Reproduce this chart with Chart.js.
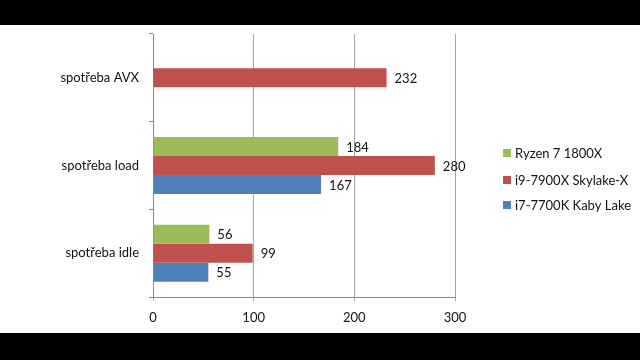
<!DOCTYPE html>
<html>
<head>
<meta charset="utf-8">
<script src="https://cdn.jsdelivr.net/npm/chart.js@4/dist/chart.umd.min.js"></script>
<style>
  html, body { margin: 0; padding: 0; background: #000; }
  #wrap { position: absolute; left: 0; top: 25px; width: 640px; height: 308px; background: #fff; }
</style>
</head>
<body>
<div id="wrap"><canvas id="chart" width="640" height="308"></canvas></div>
<script>
const categories = ['spotřeba AVX', 'spotřeba load', 'spotřeba idle'];
const seriesNames = ['Ryzen 7 1800X', 'i9-7900X Skylake-X', 'i7-7700K Kaby Lake'];
const ryzenValues = [null, 184, 56];
const skylakeValues = [232, 280, 99];
const kabyLakeValues = [null, 167, 55];
const xTickValues = [0, 100, 200, 300];

const colors = ['#9BBB59', '#C0504D', '#4F81BD'];
const FONT = 'Lato';

// labels with the value right of each bar
const valueLabels = {
  id: 'valueLabels',
  afterDatasetsDraw(chart) {
    const ctx = chart.ctx;
    ctx.save();
    ctx.font = '13px ' + FONT;
    ctx.fillStyle = '#111';
    ctx.textBaseline = 'middle';
    ctx.textAlign = 'left';
    chart.data.datasets.forEach((ds, i) => {
      chart.getDatasetMeta(i).data.forEach((bar, j) => {
        const v = ds.data[j];
        if (v == null) return;
        ctx.fillText(String(v), bar.x + 8, bar.y + 1);
      });
    });
    ctx.restore();
  }
};

// legend on the right, like the excel one
const sideLegend = {
  id: 'sideLegend',
  afterDraw(chart) {
    const ctx = chart.ctx;
    const rows = [128, 155, 180];
    ctx.save();
    ctx.font = '13px ' + FONT;
    ctx.textBaseline = 'middle';
    chart.data.datasets.forEach((ds, i) => {
      ctx.fillStyle = ds.backgroundColor;
      ctx.fillRect(503, rows[i] - 4, 8, 8);
      ctx.fillStyle = '#111';
      ctx.fillText(ds.label, 515, rows[i] + 1);
    });
    ctx.restore();
  }
};

new Chart(document.getElementById('chart'), {
  type: 'bar',
  data: {
    labels: categories,
    datasets: [
      { label: seriesNames[0], data: ryzenValues, backgroundColor: colors[0] },
      { label: seriesNames[1], data: skylakeValues, backgroundColor: colors[1] },
      { label: seriesNames[2], data: kabyLakeValues, backgroundColor: colors[2] },
    ],
  },
  options: {
    indexAxis: 'y',
    responsive: false,
    animation: false,
    layout: { padding: { left: 0, right: 185, top: 9, bottom: 0 } },
    datasets: { bar: { categoryPercentage: 0.65, barPercentage: 1.0 } },
    scales: {
      x: {
        min: 0,
        max: 300,
        afterBuildTicks: (scale) => { scale.ticks = xTickValues.map((v) => ({ value: v })); },
        afterFit: (scale) => { scale.height = 36; scale.paddingLeft = 0; scale.paddingRight = 0; },
        grid: { color: '#a6a6a6', tickLength: 4, drawTicks: true },
        border: { display: true, color: '#868686' },
        ticks: { color: '#111', padding: 9, font: { family: FONT, size: 13 } },
      },
      y: {
        afterFit: (scale) => { scale.width = 153; scale.paddingTop = 0; scale.paddingBottom = 0; },
        grid: { display: true, drawOnChartArea: false, drawTicks: true, tickLength: 4, offset: true, color: '#868686' },
        border: { display: true, color: '#868686' },
        ticks: { color: '#111', padding: 10, font: { family: FONT, size: 13 } },
      },
    },
    plugins: {
      legend: { display: false },
      tooltip: { enabled: false },
    },
  },
  plugins: [valueLabels, sideLegend],
});
</script>
</body>
</html>
